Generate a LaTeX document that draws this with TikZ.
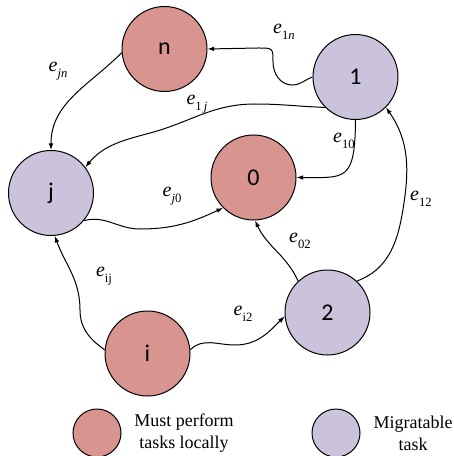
\documentclass[tikz,border=0pt]{standalone}
\usepackage{fontspec}
\setmainfont{Liberation Serif}
\newfontfamily\nodefont{Carlito}
\usetikzlibrary{arrows.meta}
\definecolor{localred}{HTML}{D8948F}
\definecolor{migpurple}{HTML}{CBC3DB}
\newcommand{\elab}[1]{\textit{e}\raisebox{-0.6ex}{\fontsize{9.5}{9.5}\selectfont #1}}

\begin{document}
\begin{tikzpicture}[
  x=0.75pt, y=-0.75pt,
  task/.style={draw, circle, line width=0.75pt, minimum size=63.75pt, inner sep=0pt, font=\nodefont\fontsize{18}{18}\selectfont},
  local/.style={task, fill=localred},
  mig/.style={task, fill=migpurple},
  key/.style={draw, circle, line width=0.75pt, minimum size=36pt, inner sep=0pt},
  lbl/.style={font=\fontsize{15}{15}\selectfont, inner sep=0pt},
  txt/.style={align=center, font=\fontsize{13.5}{16.5}\selectfont, inner sep=0pt},
  arr/.style={-{Latex[length=5pt,width=3.5pt]}, line width=0.75pt}
]
\useasboundingbox (0,0) rectangle (453,456);
% tasks
\node[local] (tn) at (164.5,49) {n};
\node[mig] (t1) at (355.5,77) {1};
\node[mig] (tj) at (51,193) {j};
\node[local] (t0) at (253.5,177.5) {0};
\node[mig] (t2) at (327.5,312.5) {2};
\node[local] (ti) at (147.5,353.5) {i};
% edges
\draw[arr] (t1.west) to[out=200,in=0] (292,85) to[out=180,in=-90] (273,62) .. controls (273,48) .. (258,48) -- (tn.east);
\draw[arr] (tn.185) to[out=225,in=90] (tj.north);
\draw[arr] (t1.225) to[out=178,in=0] (255,104) to[out=180,in=15] (150,133) to[out=195,in=50] (tj.37);
\draw[arr] (t1.south) .. controls (355,182) and (345,177.5) .. (t0.east);
\draw[arr] (tj.-40) to[out=15,in=180] (140,229) to[out=0,in=205] (t0.225);
\draw[arr] (t2.133) to[out=115,in=-65] (t0.-88);
\draw[arr] (t2.47) to[out=20,in=-100] (402,215) to[out=80,in=-55] (t1.-45);
\draw[arr] (ti.175) to[out=145,in=-90] (80,310) to[out=90,in=-70] (tj.-85);
\draw[arr] (ti.5) to[out=45,in=180] (235,345) to[out=0,in=225] (t2.185);
% edge labels
\node[lbl] (l1n) at (284,32) {\elab{1\textit{n}}};
\node[lbl] (ljn) at (58,71) {\elab{\textit{jn}}};
\node[lbl] (l1j) at (197,104) {\elab{1\,\textit{j}}};
\node[lbl] (l10) at (344,141) {\elab{10}};
\node[lbl] (lj0) at (172,196) {\elab{\textit{j}0}};
\node[lbl] (l12) at (421,199) {\elab{12}};
\node[lbl] (l02) at (300,241) {\elab{02}};
\node[lbl] (lij) at (104,276) {\elab{ij}};
\node[lbl] (li2) at (243,314) {\elab{i2}};
% legend
\node[key, fill=localred] (kl) at (97,433) {};
\node[txt] (kltxt) at (184,433) {Must perform\\tasks locally};
\node[key, fill=migpurple] (km) at (336,433) {};
\node[txt] (kmtxt) at (413,433) {Migratable\\task};
\end{tikzpicture}
\end{document}
